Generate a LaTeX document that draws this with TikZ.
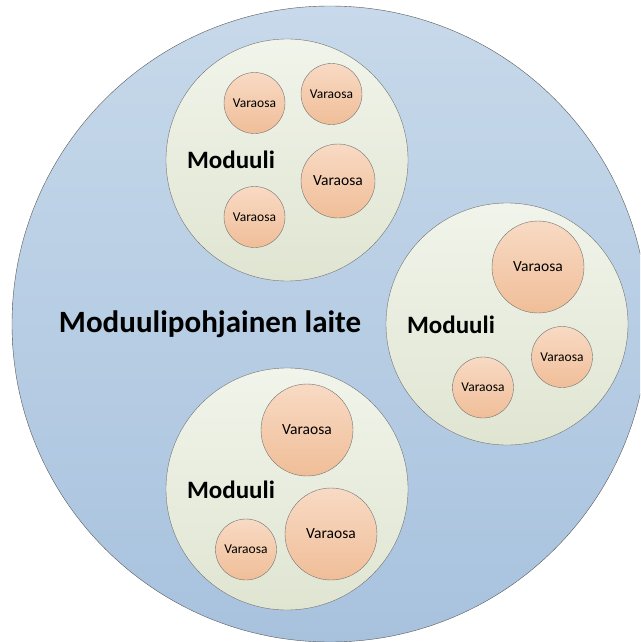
\documentclass[tikz,border=0pt]{standalone}
\usepackage{fontspec}
\setmainfont{Carlito}
\usetikzlibrary{shapes,positioning}
\definecolor{laiteA}{RGB}{199,217,234}
\definecolor{laiteB}{RGB}{168,194,222}
\definecolor{modA}{RGB}{241,244,234}
\definecolor{modB}{RGB}{224,229,210}
\definecolor{osaA}{RGB}{248,218,196}
\definecolor{osaB}{RGB}{240,190,152}
\tikzset{
  isoosa/.style={circle,draw=black!55,top color=osaA,bottom color=osaB,minimum size=92pt,inner sep=0pt,font=\fontsize{15.5}{17}\selectfont},
  keskiosa/.style={isoosa,minimum size=74pt},
  pieniosa/.style={isoosa,minimum size=61pt,font=\fontsize{13.5}{15}\selectfont},
  otsikko/.style={font=\fontsize{25}{27}\selectfont\bfseries}
}
\begin{document}
\begin{tikzpicture}[x=1pt,y=-1pt]
   \clip (0,0) rectangle (640,642);
   \node (laite) [circle,draw=black!65,top color=laiteA,bottom color=laiteB,minimum size=636pt,inner sep=0pt] at (330,324) {};
   \node (nimi) [font=\fontsize{31}{33}\selectfont\bfseries] at (210,324) {Moduulipohjainen laite};
   \begin{scope}[every node/.style={circle,draw=black!55,top color=modA,bottom color=modB,minimum size=242pt,inner sep=0pt}]
    \node (m1) at (287,160) {};
    \node (m2) at (507,324) {};
    \node (m3) at (287,489) {};
   \end{scope}
   % moduulien nimet
   \node (n1) [otsikko] at (231,160) {Moduuli};
   \node (n2) [otsikko] at (451,325) {Moduuli};
   \node (n3) [otsikko] at (231,490) {Moduuli};
   % varaosat
   \node (o11) [pieniosa] at (254.5,103) {Varaosa};
   \node (o12) [pieniosa] at (331.5,94) {Varaosa};
   \node (o13) [keskiosa] at (338,181) {Varaosa};
   \node (o14) [pieniosa] at (254.5,217) {Varaosa};
   \node (o21) [isoosa] at (538,267) {Varaosa};
   \node (o22) [pieniosa] at (562,357) {Varaosa};
   \node (o23) [pieniosa] at (483,387.5) {Varaosa};
   \node (o31) [isoosa] at (307,430) {Varaosa};
   \node (o32) [isoosa] at (331,534) {Varaosa};
   \node (o33) [pieniosa] at (246,549.5) {Varaosa};
\end{tikzpicture}
\end{document}
